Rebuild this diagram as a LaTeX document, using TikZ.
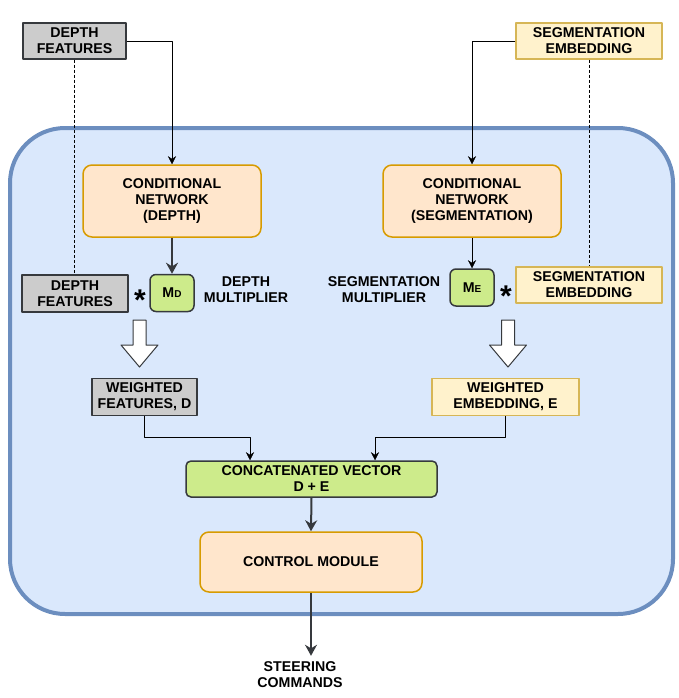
\documentclass[tikz,border=0pt]{standalone}
\usepackage{fontspec}
\setmainfont{Liberation Sans}
\usetikzlibrary{arrows.meta}
\definecolor{darkline}{HTML}{36393D}
\definecolor{grayfill}{HTML}{CCCCCC}
\definecolor{yellowfill}{HTML}{FFF2CC}
\definecolor{yellowline}{HTML}{D6B656}
\definecolor{orangefill}{HTML}{FFE6CC}
\definecolor{orangeline}{HTML}{D79B00}
\definecolor{greenfill}{HTML}{CDEB8B}
\definecolor{bluefill}{HTML}{DAE8FC}
\definecolor{blueline}{HTML}{6C8EBF}
\begin{document}
\begin{tikzpicture}[x=1pt,y=-1pt,>={Stealth[length=8pt,width=8pt]}, font=\bfseries\fontsize{14.2}{16}\selectfont, line join=round]
			\tikzset{every node/.style={align=center, inner sep=0pt},
				graybox/.style={draw=darkline, fill=grayfill, line width=1.5pt},
				yellowbox/.style={draw=yellowline, fill=yellowfill, line width=1.5pt},
				netbox/.style={draw=orangeline, fill=orangefill, line width=1.5pt, rounded corners=9pt},
				multbox/.style={draw=darkline, fill=greenfill, line width=1.5pt, rounded corners=6pt},
				thickarrow/.style={->, draw=darkline, line width=2pt, >={Stealth[length=11pt,width=12pt]}},
				hollow/.style={draw=darkline, fill=white, line width=1pt}}
			\useasboundingbox (0,0) rectangle (678,698);
			% container
			\draw[draw=blueline, fill=bluefill, line width=4pt, rounded corners=55pt] (10,128) rectangle (673,614);
			% inputs
			\node[graybox, minimum width=103pt, minimum height=36pt] (dfTop) at (74.5,41) {DEPTH\\FEATURES};
			\node[yellowbox, minimum width=146pt, minimum height=36pt] (seTop) at (589,41) {SEGMENTATION\\EMBEDDING};
			\node[netbox, minimum width=178pt, minimum height=72pt] (cnD) at (172,201) {CONDITIONAL\\NETWORK\\(DEPTH)};
			\node[netbox, minimum width=178pt, minimum height=72pt] (cnS) at (472,201) {CONDITIONAL\\NETWORK\\(SEGMENTATION)};
			% multipliers
			\node[multbox, minimum width=44pt, minimum height=37pt] (mD) at (172,293) {M{\fontsize{10}{10}\selectfont D}};
			\node[multbox, minimum width=44pt, minimum height=37pt] (mE) at (472,287.5) {M{\fontsize{10}{10}\selectfont E}};
			\node[graybox, minimum width=106pt, minimum height=37pt] (dfLow) at (75,293.5) {DEPTH\\FEATURES};
			\node[yellowbox, minimum width=146pt, minimum height=36pt] (seLow) at (589,285) {SEGMENTATION\\EMBEDDING};
			\node (mDtext) at (246,290) {DEPTH\\MULTIPLIER};
			\node (mEtext) at (384,290) {SEGMENTATION\\MULTIPLIER};
			\node[anchor=base, font=\bfseries\fontsize{30}{30}\selectfont] (starD) at (140,310) {*};
			\node[anchor=base, font=\bfseries\fontsize{30}{30}\selectfont] (starE) at (506,306) {*};
			% weighted
			\node[graybox, minimum width=105pt, minimum height=37pt] (wD) at (144.5,397) {WEIGHTED\\FEATURES, D};
			\node[yellowbox, minimum width=147pt, minimum height=37pt] (wE) at (505.5,397) {WEIGHTED\\EMBEDDING, E};
			\node[multbox, rounded corners=5pt, minimum width=251pt, minimum height=36pt] (cat) at (311.5,479) {CONCATENATED VECTOR\\D + E};
			\node[netbox, minimum width=222pt, minimum height=60pt] (ctl) at (311,562) {CONTROL MODULE};
			\node[inner sep=6pt] (steer) at (300,675) {STEERING\\COMMANDS};
			\coordinate (jD) at (250,437);
			\coordinate (jE) at (375,437);
			% connectors
			\draw[->] (dfTop.east) -| (cnD.north);
			\draw[->] (seTop.west) -| (cnS.north);
			\draw[dashed, dash pattern=on 3pt off 2pt] (dfTop.south) -- (dfTop.south |- dfLow.north);
			\draw[dashed, dash pattern=on 3pt off 2pt] (seTop.south) -- (seLow.north);
			\draw[thickarrow] (cnD.south) -- (mD.north);
			\draw[->] (cnS.south) -- (mE.north);
			\draw[->] (wD.south) |- (jD) -- (jD |- cat.north);
			\draw[->] (wE.south) |- (jE) -- (jE |- cat.north);
			\draw[thickarrow] (cat.south) -- (ctl.north);
			\draw[thickarrow] (ctl.south) -- (ctl.south |- steer.north);
			% hollow arrows
			\foreach \xc in {139.5,508}
				\draw[hollow] (\xc-6.5,320) -- (\xc+6.5,320) -- (\xc+6.5,345) -- (\xc+18.5,345) -- (\xc,367) -- (\xc-18.5,345) -- (\xc-6.5,345) -- cycle;
		\end{tikzpicture}
\end{document}
